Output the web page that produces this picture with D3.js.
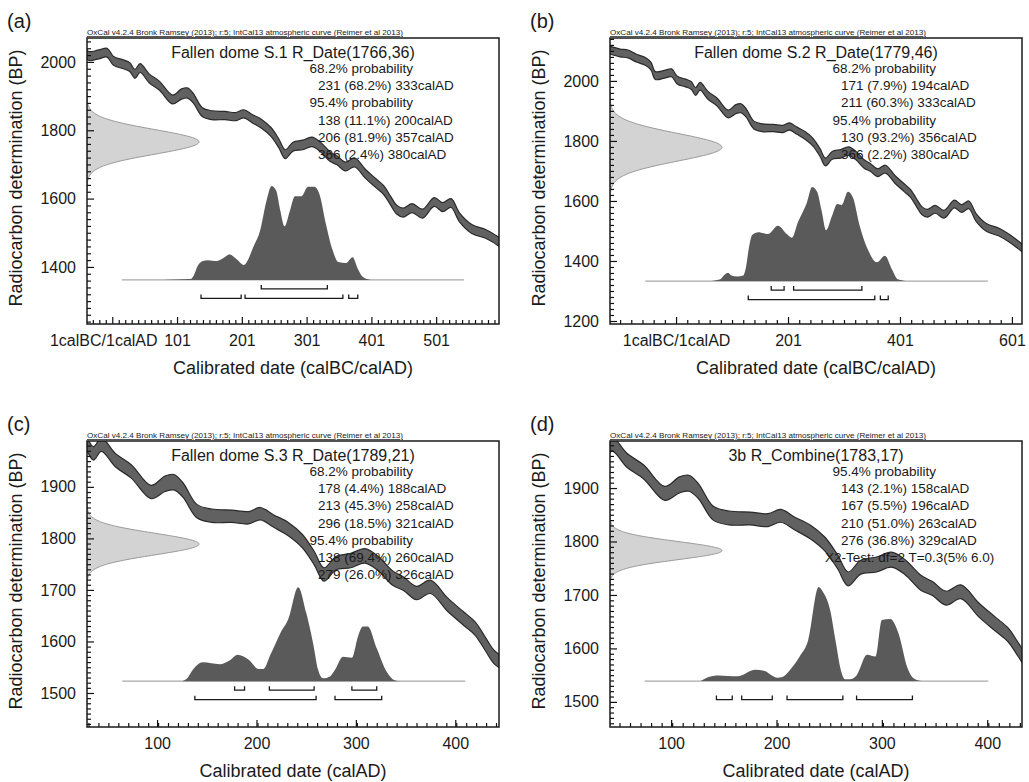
<!DOCTYPE html>
<html>
<head>
<meta charset="utf-8">
<script src="https://cdn.jsdelivr.net/npm/d3@7"></script>
<style>
body { margin: 0; background: #fff; }
svg text { font-family: "Liberation Sans", Arial, Helvetica, sans-serif; fill: #1a1a1a; }
</style>
</head>
<body>
<div id="chart"></div>
<script>

/* IntCal13 curve: [year AD, BP, 1 sigma] */
var calCurve = [
    [-125, 2106, 13], [-116, 2102, 13], [-99, 2093, 13], [-85, 2090, 13], [-70, 2076, 13],
    [-54, 2065, 13], [-44, 2050, 13], [-36, 2018, 13], [-20, 2022, 13], [-7, 2027, 13],
    [3, 2003, 13], [18, 1993, 13], [28, 1985, 13], [36, 1965, 13], [44, 1982, 13],
    [58, 1952, 13], [74, 1930, 13], [94, 1890, 13], [108, 1906, 15], [117, 1909, 15],
    [126, 1894, 14], [140, 1853, 13], [155, 1844, 13], [175, 1843, 12], [192, 1840, 12],
    [204, 1848, 12], [217, 1834, 12], [232, 1818, 13], [246, 1795, 13], [258, 1762, 13],
    [268, 1730, 13], [280, 1752, 13], [295, 1757, 14], [309, 1766, 14], [322, 1752, 14],
    [337, 1723, 14], [348, 1712, 13], [361, 1694, 13], [375, 1706, 13], [392, 1672, 13],
    [408, 1645, 13], [420, 1625, 13], [430, 1596, 13], [440, 1568, 13], [450, 1559, 13],
    [464, 1572, 13], [480, 1556, 13], [498, 1590, 13], [511, 1575, 13], [524, 1587, 13],
    [537, 1545, 13], [556, 1511, 13], [578, 1496, 13], [596, 1476, 13], [625, 1435, 13]
];

/* Panel letters, titles and the dates (mean, error) */
var panelLetters = ["(a)", "(b)", "(c)", "(d)"];
var titles = [
    "Fallen dome S.1 R_Date(1766,36)",
    "Fallen dome S.2 R_Date(1779,46)",
    "Fallen dome S.3 R_Date(1789,21)",
    "3b R_Combine(1783,17)"
];
var dates = [[1766, 36], [1779, 46], [1789, 21], [1783, 17]];

/* Summary text of each panel */
var summaryA = ["68.2% probability", "231 (68.2%) 333calAD", "95.4% probability",
    "138 (11.1%) 200calAD", "206 (81.9%) 357calAD", "366 (2.4%) 380calAD"];
var summaryB = ["68.2% probability", "171 (7.9%) 194calAD", "211 (60.3%) 333calAD",
    "95.4% probability", "130 (93.2%) 356calAD", "366 (2.2%) 380calAD"];
var summaryC = ["68.2% probability", "178 (4.4%) 188calAD", "213 (45.3%) 258calAD",
    "296 (18.5%) 321calAD", "95.4% probability", "138 (69.4%) 260calAD", "279 (26.0%) 326calAD"];
var summaryD = ["95.4% probability", "143 (2.1%) 158calAD", "167 (5.5%) 196calAD",
    "210 (51.0%) 263calAD", "276 (36.8%) 329calAD", "X2-Test: df=2 T=0.3(5% 6.0)"];

/* Range brackets: 68.2% and 95.4% */
var ranges68 = [[[231, 333]], [[171, 194], [211, 333]], [[178, 188], [213, 258], [296, 321]], []];
var ranges95 = [
    [[138, 200], [206, 357], [366, 380]],
    [[130, 356], [366, 380]],
    [[138, 260], [279, 326]],
    [[143, 158], [167, 196], [210, 263], [276, 329]]
];

/* Calibrated distributions: [year AD, relative probability] */
var postA = [[79, 0], [100, 0.005], [122, 0.01], [127, 0.05], [133, 0.15], [141, 0.2], [149, 0.21],
    [162, 0.2], [172, 0.23], [182, 0.27], [193, 0.22], [204, 0.16], [211, 0.22], [218, 0.34],
    [229, 0.52], [239, 0.84], [247, 1.0], [254, 0.95], [260, 0.75], [267, 0.57], [275, 0.73],
    [283, 0.89], [293, 0.89], [303, 0.99], [313, 0.99], [321, 0.91], [331, 0.59], [341, 0.32],
    [350, 0.19], [362, 0.18], [372, 0.24], [380, 0.12], [388, 0.03], [400, 0]];
var postB = [[60, 0], [80, 0.02], [88, 0.07], [94, 0.09], [100, 0.06], [110, 0.05], [121, 0.06],
    [126, 0.15], [131, 0.35], [137, 0.49], [148, 0.52], [165, 0.5], [183, 0.59], [199, 0.5],
    [208, 0.46], [219, 0.63], [235, 0.84], [244, 1.0], [253, 0.95], [261, 0.75], [269, 0.54],
    [280, 0.7], [289, 0.82], [297, 0.81], [308, 0.95], [317, 0.89], [329, 0.59], [344, 0.33],
    [360, 0.2], [374, 0.27], [387, 0.12], [397, 0.02], [415, 0]];
var postC = [[125, 0], [131, 0.04], [136, 0.12], [146, 0.2], [163, 0.18], [173, 0.22], [181, 0.28],
    [192, 0.23], [202, 0.13], [207, 0.13], [214, 0.28], [224, 0.51], [232, 0.66], [242, 1.0],
    [250, 0.73], [257, 0.4], [262, 0.12], [267, 0.03], [274, 0.05], [279, 0.12], [287, 0.26],
    [296, 0.25], [302, 0.47], [307, 0.58], [312, 0.58], [321, 0.35], [331, 0.1], [339, 0.01], [345, 0]];
var postD = [[128, 0], [135, 0.04], [145, 0.06], [163, 0.05], [180, 0.12], [188, 0.11], [201, 0.035],
    [205, 0.04], [213, 0.12], [222, 0.26], [230, 0.43], [240, 1.0], [244, 0.95], [251, 0.75],
    [256, 0.43], [261, 0.12], [265, 0.02], [270, 0.02], [276, 0.06], [286, 0.28], [294, 0.26],
    [300, 0.65], [308, 0.66], [316, 0.5], [324, 0.15], [330, 0.03], [338, 0]];

/* Axis extents, ticks and the level of the distribution baseline (BP) */
var xDomains = [[-38, 598], [-117, 619], [29.5, 444], [42, 433]];
var yDomains = [[1233, 2070], [1190, 2143], [1434, 1989], [1453, 1988]];
var xTicks = [[1, 101, 201, 301, 401, 501], [1, 201, 401, 601], [100, 200, 300, 400], [100, 200, 300, 400]];
var yTicks = [[1400, 1600, 1800, 2000], [1200, 1400, 1600, 1800, 2000],
    [1500, 1600, 1700, 1800, 1900], [1500, 1600, 1700, 1800, 1900]];
var xMinorStep = [10, 20, 10, 10];
var yMinorStep = [20, 20, 10, 10];
var baseBP = [1362, 1333, 1523, 1539];
var baseSpan = [[16, 544], [-54, 558], [65, 410], [75, 401]];
var xTitles = ["Calibrated date (calBC/calAD)", "Calibrated date (calBC/calAD)",
    "Calibrated date (calAD)", "Calibrated date (calAD)"];
var yTitle = "Radiocarbon determination (BP)";
var header = "OxCal v4.2.4 Bronk Ramsey (2013); r:5; IntCal13 atmospheric curve (Reimer et al 2013)";

var width = 1029, height = 782;
var W = 412, H = 286;
var panelLeft = [87, 610, 87, 610];
var panelTop = [38, 38, 441, 441];
var fontFamily = "Liberation Sans, Arial, Helvetica, sans-serif";

var summaries = [summaryA, summaryB, summaryC, summaryD];
var posteriors = [postA, postB, postC, postD];

/* Styles the tick labels after the axis call (d3 resets font on call) */
function styleAxis (sel)
{
    sel.attr("font-size", 16).attr("font-family", fontFamily);
    sel.select(".domain").remove();
    sel.selectAll(".tick line").attr("stroke", "#111").attr("stroke-width", 1.2);
    sel.selectAll(".tick text").attr("fill", "#1a1a1a");
}

function drawPanel (svg, i)
{
    var g = svg.append("g")
        .attr("transform", "translate(" + panelLeft[i] + "," + panelTop[i] + ")");

    var x = d3.scaleLinear().domain(xDomains[i]).range([0, W]);
    var y = d3.scaleLinear().domain(yDomains[i]).range([H, 0]);

    g.append("clipPath")
        .attr("id", "clip" + i)
        .append("rect")
        .attr("width", W)
        .attr("height", H);

    var plot = g.append("g").attr("clip-path", "url(#clip" + i + ")");

    /* Radiocarbon measurement, normal curve on the BP axis */
    var mu = dates[i][0], sd = dates[i][1];
    var pdf = d3.range(-4, 4.001, 0.05).map(function (z) {
        return [mu + z * sd, Math.exp(-z * z / 2)];
    });
    var dens = d3.scaleLinear().domain([0, 1]).range([0, 112]);
    plot.append("path")
        .datum(pdf)
        .attr("fill", "#d3d3d3")
        .attr("stroke", "#9a9a9a")
        .attr("stroke-width", 1)
        .attr("d", d3.area()
            .y(function (d) { return y(d[0]); })
            .x0(0)
            .x1(function (d) { return dens(d[1]); }));

    /* Calibration curve band */
    plot.append("path")
        .datum(calCurve)
        .attr("fill", "#616161")
        .attr("stroke", "#2a2a2a")
        .attr("stroke-width", 1.2)
        .attr("stroke-linejoin", "round")
        .attr("d", d3.area()
            .x(function (d) { return x(d[0]); })
            .y0(function (d) { return y(d[1] - d[2]); })
            .y1(function (d) { return y(d[1] + d[2]); })
            .curve(d3.curveCatmullRom));

    /* Baseline of the calibrated distribution */
    var y0 = y(baseBP[i]);
    var ph = d3.scaleLinear().domain([0, 1]).range([y0, y0 - 94]);
    plot.append("line")
        .attr("x1", x(baseSpan[i][0]))
        .attr("x2", x(baseSpan[i][1]))
        .attr("y1", y0)
        .attr("y2", y0)
        .attr("stroke", "#a8a8a8")
        .attr("stroke-width", 1.2);

    plot.append("path")
        .datum(posteriors[i])
        .attr("fill", "#5a5a5a")
        .attr("d", d3.area()
            .x(function (d) { return x(d[0]); })
            .y0(y0)
            .y1(function (d) { return ph(d[1]); })
            .curve(d3.curveMonotoneX));

    /* Range brackets */
    var rows = [[ranges68[i], 9], [ranges95[i], 18.5]];
    rows.forEach(function (row) {
        var yy = y0 + row[1];
        plot.selectAll(null)
            .data(row[0])
            .enter()
            .append("path")
            .attr("fill", "none")
            .attr("stroke", "#1a1a1a")
            .attr("stroke-width", 1.3)
            .attr("d", function (d) {
                return "M" + x(d[0]) + "," + (yy - 4) + "V" + yy + "H" + x(d[1]) + "V" + (yy - 4);
            });
    });

    /* Header line above the frame */
    g.append("text")
        .attr("x", 0)
        .attr("y", -3)
        .attr("font-size", 7.3)
        .attr("text-decoration", "underline")
        .attr("textLength", 316)
        .attr("lengthAdjust", "spacingAndGlyphs")
        .text(header);

    /* Title and summary */
    g.append("text")
        .attr("x", W / 2)
        .attr("y", 20)
        .attr("text-anchor", "middle")
        .attr("font-size", 16)
        .text(titles[i]);

    g.selectAll(null)
        .data(summaries[i])
        .enter()
        .append("text")
        .attr("x", function (d) {
            if (/probability/.test(d)) return 222.5;
            if (/^X2/.test(d)) return 215;
            return 231;
        })
        .attr("y", function (d, k) { return 35 + k * 17.2; })
        .attr("font-size", 13.5)
        .text(function (d) { return d; });

    /* Axes, ticks pointing into the frame */
    var xfmt = function (d) { return d === 1 ? "1calBC/1calAD" : String(d); };
    var gx = g.append("g")
        .attr("transform", "translate(0," + H + ")")
        .call(d3.axisBottom(x).tickValues(xTicks[i]).tickSizeInner(-7).tickSizeOuter(0)
            .tickPadding(11).tickFormat(xfmt))
        .call(styleAxis);
    if (i === 0) gx.selectAll(".tick text").filter(function (d) { return d === 1; }).attr("dx", -9);

    var xs = xDomains[i], xm = xMinorStep[i];
    var xMinor = d3.range(Math.ceil((xs[0] - 1) / xm) * xm + 1, xs[1], xm)
        .filter(function (v) { return xTicks[i].indexOf(v) < 0; });
    g.append("g")
        .attr("transform", "translate(0," + H + ")")
        .call(d3.axisBottom(x).tickValues(xMinor).tickSizeInner(-4).tickSizeOuter(0).tickFormat(""))
        .call(styleAxis);

    g.append("g")
        .call(d3.axisLeft(y).tickValues(yTicks[i]).tickSizeInner(-7).tickSizeOuter(0)
            .tickPadding(11).tickFormat(d3.format("d")))
        .call(styleAxis);

    var ys = yDomains[i], ym = yMinorStep[i];
    var yMinor = d3.range(Math.ceil(ys[0] / ym) * ym, ys[1], ym)
        .filter(function (v) { return yTicks[i].indexOf(v) < 0; });
    g.append("g")
        .call(d3.axisLeft(y).tickValues(yMinor).tickSizeInner(-4).tickSizeOuter(0).tickFormat(""))
        .call(styleAxis);

    /* Frame */
    g.append("rect")
        .attr("width", W)
        .attr("height", H)
        .attr("fill", "none")
        .attr("stroke", "#1a1a1a")
        .attr("stroke-width", 1.5);

    /* Axis titles and panel letter */
    g.append("text")
        .attr("x", W / 2)
        .attr("y", H + 50)
        .attr("text-anchor", "middle")
        .attr("font-size", 18)
        .text(xTitles[i]);

    g.append("text")
        .attr("transform", "translate(-65," + (H / 2 - 3) + ") rotate(-90)")
        .attr("text-anchor", "middle")
        .attr("font-size", 18)
        .text(yTitle);

    g.append("text")
        .attr("x", -80)
        .attr("y", -10)
        .attr("font-size", 20)
        .text(panelLetters[i]);
}

var theSVG = d3.select("#chart")
    .append("svg")
    .attr("width", width)
    .attr("height", height);

theSVG.append("rect")
    .attr("width", width)
    .attr("height", height)
    .attr("fill", "#fff");

[0, 1, 2, 3].forEach(function (i) { drawPanel(theSVG, i); });

</script>
</body>
</html>
